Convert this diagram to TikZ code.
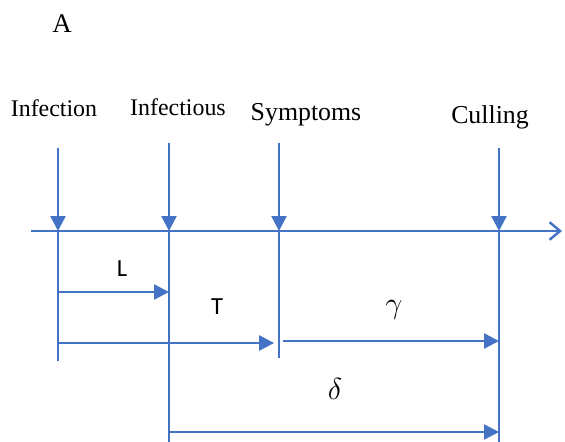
\documentclass[tikz,border=0pt]{standalone}
\usepackage{fontspec}
\setmainfont{Liberation Serif}
\newfontfamily\calibri{Carlito}
\usepackage{tikz}
\usetikzlibrary{arrows.meta,positioning}
\definecolor{lineblue}{RGB}{68,114,196}
\tikzset{
  tl/.style={draw=lineblue,line width=1.4pt},
  tlarrow/.style={tl,-{Triangle[length=8.5pt,width=8.5pt]}},
  evlabel/.style={anchor=base,inner sep=0pt,font=\fontsize{13.6}{15}\selectfont},
  evlabelbig/.style={anchor=base,inner sep=0pt,font=\fontsize{14.7}{17}\selectfont},
  durlabel/.style={anchor=base,inner sep=0pt,font=\calibri\fontsize{14}{16}\selectfont},
  greeklabel/.style={anchor=base,inner sep=0pt,font=\fontsize{17}{19}\selectfont}
}

\begin{document}
\begin{tikzpicture}[x=0.02cm,y=-0.02cm]
  \useasboundingbox (0,0) rectangle (565,442);
  \node[anchor=base,inner sep=0pt,font=\fontsize{15.3}{18}\selectfont] (panel) at (62,33) {A};

  % event labels
  \node[evlabel] (lblinfection) at (54,117) {Infection};
  \node[evlabel] (lblinfectious) at (178,116) {Infectious};
  \node[evlabelbig] (lblsymptoms) at (306,121) {Symptoms};
  \node[evlabelbig] (lblculling) at (490,124) {Culling};

  % time axis
  \coordinate (axstart) at (31,231);
  \coordinate (axend) at (562,231);
  \draw[tl,-{Straight Barb[length=6pt,width=10pt]}] (axstart) -- (axend);

  \coordinate (infTop) at (58,148);   \coordinate (inf) at (58,231);  \coordinate (infBot) at (58,361);
  \coordinate (ousTop) at (169,143);  \coordinate (ous) at (169,231); \coordinate (ousBot) at (169,442);
  \coordinate (symTop) at (279,143);  \coordinate (sym) at (279,231); \coordinate (symBot) at (279,358);
  \coordinate (culTop) at (499,148);  \coordinate (cul) at (499,231); \coordinate (culBot) at (499,442);

  \foreach \p in {inf,ous,sym,cul}
  {
    \draw[tlarrow] (\p Top) -- (\p);
    \draw[tl] (\p) -- (\p Bot);
  }

  % durations
  \draw[tlarrow] (inf |- 0,292) -- (ous |- 0,292);
  \node[durlabel] (lblL) at (122,277) {L};
  \draw[tlarrow] (inf |- 0,343) -- ([xshift=-2.8pt]sym |- 0,343);
  \node[durlabel] (lblT) at (217,315) {T};
  \draw[tlarrow] ([xshift=2.3pt]sym |- 0,341) -- (cul |- 0,341);
  \node[greeklabel] (lblgamma) at (394,314) {$\gamma$};
  \draw[tlarrow] (ous |- 0,432) -- (cul |- 0,432);
  \node[greeklabel] (lbldelta) at (335,399) {$\delta$};
\end{tikzpicture}
\end{document}
